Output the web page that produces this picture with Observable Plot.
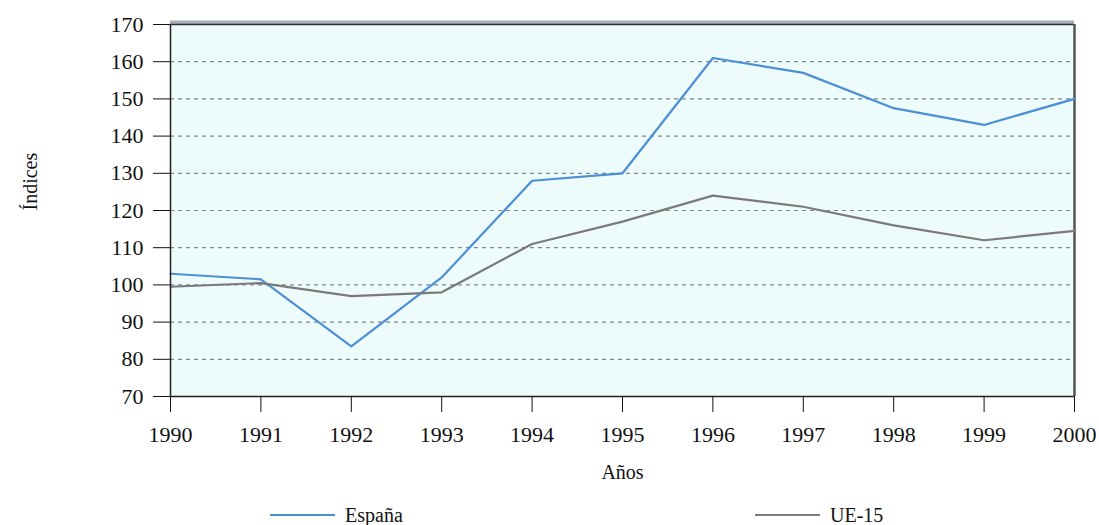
<!DOCTYPE html>
<html>
<head>
<meta charset="utf-8">
<script src="https://cdn.jsdelivr.net/npm/d3@7"></script>
<script src="https://cdn.jsdelivr.net/npm/@observablehq/plot@0.6"></script>
<style>
  body { margin: 0; background: #fff; font-family: "Liberation Serif", serif; }
  svg text { font-family: "Liberation Serif", serif !important; }
  #legend { position: relative; width: 1099px; height: 35px; }
  #legend .sw { position: absolute; height: 0; border-top: 2px solid; }
  #legend .lb { position: absolute; font-size: 20px; line-height: 20px; color: #111; }
</style>
</head>
<body>
<div id="chart"></div>
<div id="legend"></div>
<script>
const years = [1990, 1991, 1992, 1993, 1994, 1995, 1996, 1997, 1998, 1999, 2000];
const espana = [103, 101.5, 83.5, 102, 128, 130, 161, 157, 147.5, 143, 150];
const ue15 = [99.5, 100.5, 97, 98, 111, 117, 124, 121, 116, 112, 114.5];
const yTicks = [70, 80, 90, 100, 110, 120, 130, 140, 150, 160, 170];
const seriesNames = ["España", "UE-15"];
const seriesColors = ["#4b8fd6", "#7a7a7a"];
const xLabel = "Años";
const yLabel = "Índices";

const rows = [];
years.forEach((yr, i) => {
  rows.push({year: yr, value: espana[i], serie: seriesNames[0]});
  rows.push({year: yr, value: ue15[i], serie: seriesNames[1]});
});

const ff = "Liberation Serif";
const plot = Plot.plot({
  width: 1099,
  height: 490,
  marginLeft: 170,
  marginRight: 25,
  marginTop: 24,
  marginBottom: 94,
  style: {fontFamily: ff, fontSize: "22px", color: "#111", background: "#fff"},
  x: {domain: [1990, 2000], ticks: years},
  y: {domain: [70, 170], ticks: yTicks},
  color: {domain: seriesNames, range: seriesColors},
  marks: [
    Plot.frame({fill: "#eefbfb", stroke: "none"}),
    Plot.ruleY(yTicks.slice(1, -1), {stroke: "#7d8a8a", strokeDasharray: "4,4", strokeWidth: 1.2}),
    Plot.ruleY([170], {stroke: "#a8acb8", strokeWidth: 4, dy: -2}),
    Plot.ruleY([170], {stroke: "#333", strokeWidth: 1.5}),
    Plot.ruleX([2000], {stroke: "#555", strokeWidth: 2.5}),
    Plot.line(rows, {x: "year", y: "value", z: "serie", stroke: "serie", strokeWidth: 2.2}),
    Plot.ruleX([1990], {stroke: "#222", strokeWidth: 1.5}),
    Plot.ruleY([70], {stroke: "#222", strokeWidth: 1.5}),
    Plot.axisY({ticks: yTicks, tickSize: 17, tickPadding: 10, label: null, fontSize: 22, fontFamily: ff}),
    Plot.axisX({ticks: years, tickFormat: d => String(d), tickSize: 16, tickPadding: 14, label: null, fontSize: 22, fontFamily: ff}),
    Plot.text([xLabel], {frameAnchor: "bottom", dy: 82, fontSize: 20, fill: "#111", fontFamily: ff}),
    Plot.text([yLabel], {frameAnchor: "left", dx: -140, rotate: -90, fontSize: 20, fill: "#111", fontFamily: ff})
  ]
});
document.getElementById("chart").appendChild(plot);

const legend = document.getElementById("legend");
const legendPos = [270, 755];
seriesNames.forEach((name, i) => {
  const sw = document.createElement("div");
  sw.className = "sw";
  sw.style.left = legendPos[i] + "px";
  sw.style.width = "65px";
  sw.style.top = "24px";
  sw.style.borderTopColor = seriesColors[i];
  legend.appendChild(sw);
  const lb = document.createElement("div");
  lb.className = "lb";
  lb.style.left = (legendPos[i] + 75) + "px";
  lb.style.top = "15px";
  lb.textContent = name;
  legend.appendChild(lb);
});
</script>
</body>
</html>
